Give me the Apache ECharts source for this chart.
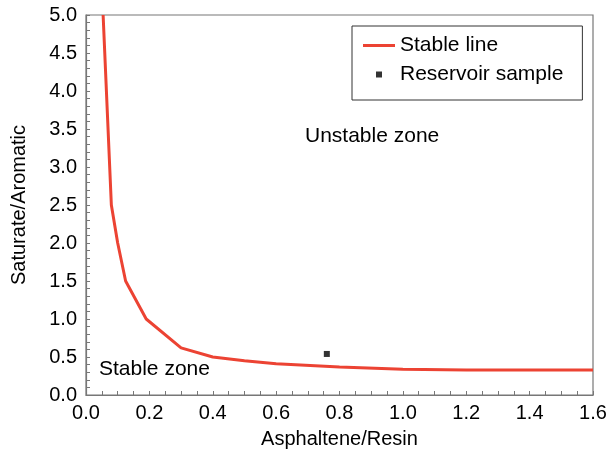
<!DOCTYPE html>
<html>
<head>
<meta charset="utf-8">
<script src="https://cdn.jsdelivr.net/npm/echarts@6/dist/echarts.min.js"></script>
<style>
  html, body { margin: 0; padding: 0; background: #fff; }
  #main { width: 611px; height: 456px; }
</style>
</head>
<body>
<div id="main"></div>
<script>
// stable line
const stableX = [0.054, 0.08, 0.1, 0.125, 0.19, 0.3, 0.4, 0.5, 0.6, 0.8, 1.0, 1.2, 1.4, 1.6];
const stableY = [5.0, 2.5, 2.0, 1.5, 1.0, 0.62, 0.5, 0.45, 0.41, 0.37, 0.34, 0.33, 0.33, 0.33];
const sampleX = [0.76];
const sampleY = [0.54];

const font = 'Liberation Sans, Arial, sans-serif';

const chart = echarts.init(document.getElementById('main'));
chart.setOption({
  animation: false,
  backgroundColor: '#fff',
  grid: {
    left: 86, right: 18, top: 15, bottom: 61,
    show: true, borderColor: '#777', borderWidth: 1.2, backgroundColor: 'transparent'
  },
  legend: {
    orient: 'vertical',
    left: 352, top: 26,
    padding: [9, 19, 15, 11],
    itemGap: 8,
    itemWidth: 32, itemHeight: 6,
    borderColor: '#333', borderWidth: 1,
    textStyle: { fontFamily: font, fontSize: 21, color: '#000' },
    data: [
      { name: 'Stable line', icon: 'path://M0,0h32v3h-32z' },
      { name: 'Reservoir sample', icon: 'path://M0,0h6v6h-6z' }
    ]
  },
  xAxis: {
    type: 'value', min: 0, max: 1.6, interval: 0.2,
    name: 'Asphaltene/Resin', nameLocation: 'middle', nameGap: 34,
    nameTextStyle: { fontFamily: font, fontSize: 20, color: '#000' },
    axisLine: { lineStyle: { color: '#777', width: 1.2 } },
    axisTick: { inside: true, length: 4, lineStyle: { color: '#777' } },
    minorTick: { show: true, splitNumber: 4, length: 4, lineStyle: { color: '#777' } },
    splitLine: { show: false },
    axisLabel: { fontFamily: font, fontSize: 20, color: '#000', margin: 8,
      formatter: v => v.toFixed(1) }
  },
  yAxis: {
    type: 'value', min: 0, max: 5, interval: 0.5,
    name: 'Saturate/Aromatic', nameLocation: 'middle', nameGap: 57,
    nameTextStyle: { fontFamily: font, fontSize: 20, color: '#000' },
    axisLine: { show: true, lineStyle: { color: '#777', width: 1.2 } },
    axisTick: { show: true, inside: true, length: 4, lineStyle: { color: '#777' } },
    minorTick: { show: true, splitNumber: 5, length: 4, lineStyle: { color: '#777' } },
    splitLine: { show: false },
    axisLabel: { fontFamily: font, fontSize: 20, color: '#000', margin: 9,
      formatter: v => v.toFixed(1) }
  },
  series: [
    {
      name: 'Stable line', type: 'line',
      data: stableX.map((x, i) => [x, stableY[i]]),
      showSymbol: false, symbol: 'none',
      lineStyle: { color: '#ec4333', width: 3 },
      itemStyle: { color: '#ec4333' },
      clip: true
    },
    {
      name: 'Reservoir sample', type: 'scatter',
      data: sampleX.map((x, i) => [x, sampleY[i]]),
      symbol: 'rect', symbolSize: 6,
      itemStyle: { color: '#000' }
    }
  ],
  graphic: [
    { type: 'text', left: 305, top: 126,
      style: { text: 'Unstable zone', font: '21px ' + font, fill: '#000' } },
    { type: 'text', left: 99, top: 359,
      style: { text: 'Stable zone', font: '21px ' + font, fill: '#000' } }
  ]
});
</script>
</body>
</html>
